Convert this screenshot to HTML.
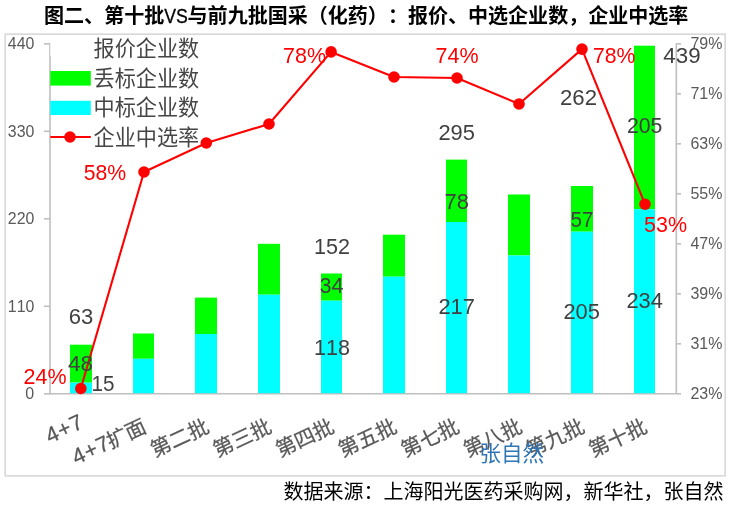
<!DOCTYPE html>
<html lang="zh-CN">
<head>
<meta charset="utf-8">
<title>图二、第十批VS与前九批国采（化药）</title>
<style>
html,body{margin:0;padding:0;background:#fff;}
body{width:736px;height:508px;overflow:hidden;position:relative;}
svg{display:block;position:absolute;left:0;top:0;}
text{font-family:"Liberation Sans", "Noto Sans CJK SC", sans-serif;text-spacing-trim:space-all;font-kerning:none;}
.t{font-weight:bold;font-size:20.07px;fill:#000;}
.ax{font-size:16px;fill:#595959;}
.dl{font-size:22px;fill:#404040;text-anchor:middle;}
.rl{font-size:22px;fill:#ff0000;text-anchor:middle;}
.lg{font-size:21.15px;fill:#454545;}
.cat{font-size:20.5px;fill:#595959;stroke:#595959;stroke-width:0.25px;text-anchor:end;}
.catl{font-size:22px;letter-spacing:0.7px;}
.src{font-size:20px;fill:#000;text-anchor:end;}
.wm{font-size:21.5px;fill:#2e75b6;}
</style>
</head>
<body>
<svg width="736" height="508" viewBox="0 0 736 508">
<rect x="0" y="0" width="736" height="508" fill="#ffffff"/>
<text class="t" x="44" y="23.3">图二、第十批</text>
<text x="164.2" y="23.3" font-size="20" fill="#000" stroke="#000" stroke-width="0.3" textLength="23.6" lengthAdjust="spacingAndGlyphs">VS</text>
<text class="t" x="187.6" y="23.3" style="font-size:20.04px">与前九批国采（化药）：报价、中选企业数，企业中选率</text>
<rect x="5.2" y="34.2" width="720" height="441.6" fill="#fff" stroke="#d9d9d9" stroke-width="1.7"/>
<g stroke="#bfbfbf" stroke-width="1.6" fill="none">
<path d="M50 43.8V393.8H676.3"/>
<path d="M44 43.8H50"/>
<path d="M44 131.3H50"/>
<path d="M44 218.8H50"/>
<path d="M44 306.3H50"/>
<path d="M44 393.8H50"/>
<path d="M676.3 43.8V393.8"/>
<path d="M676.3 43.8H681"/>
<path d="M676.3 93.8H681"/>
<path d="M676.3 143.8H681"/>
<path d="M676.3 193.8H681"/>
<path d="M676.3 243.8H681"/>
<path d="M676.3 293.8H681"/>
<path d="M676.3 343.8H681"/>
<path d="M676.3 393.8H681"/>
</g>
<text class="ax" x="7.8" y="49.4" textLength="26.5" lengthAdjust="spacingAndGlyphs">440</text>
<text class="ax" x="7.8" y="136.9" textLength="26.5" lengthAdjust="spacingAndGlyphs">330</text>
<text class="ax" x="7.8" y="224.4" textLength="26.5" lengthAdjust="spacingAndGlyphs">220</text>
<text class="ax" x="7.8" y="311.9" textLength="26.5" lengthAdjust="spacingAndGlyphs">110</text>
<text class="ax" x="25.3" y="399.4" text-anchor="start">0</text>
<text class="ax" x="690.4" y="48.6" textLength="32" lengthAdjust="spacingAndGlyphs">79%</text>
<text class="ax" x="690.4" y="98.6" textLength="32" lengthAdjust="spacingAndGlyphs">71%</text>
<text class="ax" x="690.4" y="148.6" textLength="32" lengthAdjust="spacingAndGlyphs">63%</text>
<text class="ax" x="690.4" y="198.6" textLength="32" lengthAdjust="spacingAndGlyphs">55%</text>
<text class="ax" x="690.4" y="248.6" textLength="32" lengthAdjust="spacingAndGlyphs">47%</text>
<text class="ax" x="690.4" y="298.6" textLength="32" lengthAdjust="spacingAndGlyphs">39%</text>
<text class="ax" x="690.4" y="348.6" textLength="32" lengthAdjust="spacingAndGlyphs">31%</text>
<text class="ax" x="690.4" y="398.6" textLength="32" lengthAdjust="spacingAndGlyphs">23%</text>
<g>
<rect x="70" y="344.7" width="22" height="37.9" fill="#00ff00"/>
<rect x="70" y="382.6" width="22" height="10.6" fill="#00ffff"/>
<rect x="133" y="333.5" width="21" height="25.3" fill="#00ff00"/>
<rect x="133" y="358.8" width="21" height="34.4" fill="#00ffff"/>
<rect x="195" y="297.6" width="22" height="36.4" fill="#00ff00"/>
<rect x="195" y="334.0" width="22" height="59.2" fill="#00ffff"/>
<rect x="258" y="243.8" width="22" height="50.9" fill="#00ff00"/>
<rect x="258" y="294.7" width="22" height="98.5" fill="#00ffff"/>
<rect x="321" y="273.5" width="21" height="27.2" fill="#00ff00"/>
<rect x="321" y="300.7" width="21" height="92.5" fill="#00ffff"/>
<rect x="383" y="234.7" width="22" height="42.0" fill="#00ff00"/>
<rect x="383" y="276.7" width="22" height="116.5" fill="#00ffff"/>
<rect x="446" y="159.6" width="21" height="62.4" fill="#00ff00"/>
<rect x="446" y="222.0" width="21" height="171.2" fill="#00ffff"/>
<rect x="508" y="194.5" width="22" height="61.0" fill="#00ff00"/>
<rect x="508" y="255.5" width="22" height="137.7" fill="#00ffff"/>
<rect x="571" y="186.0" width="22" height="45.7" fill="#00ff00"/>
<rect x="571" y="231.7" width="22" height="161.5" fill="#00ffff"/>
<rect x="634" y="45.7" width="21" height="163.5" fill="#00ff00"/>
<rect x="634" y="209.2" width="21" height="184.0" fill="#00ffff"/>
</g>
<rect x="50.3" y="41" width="40.5" height="14.8" fill="#ffffff"/>
<rect x="50.3" y="71" width="40.5" height="14.6" fill="#00ff00"/>
<rect x="50.3" y="100.8" width="40.5" height="14.2" fill="#00ffff"/>
<path d="M50.3 137H90.8" stroke="#ff0000" stroke-width="2"/>
<circle cx="70" cy="137" r="5.8" fill="#ff0000"/>
<text class="lg" x="93.5" y="55.8">报价企业数</text>
<text class="lg" x="93.5" y="85.6">丢标企业数</text>
<text class="lg" x="93.5" y="114.8">中标企业数</text>
<text class="lg" x="93.5" y="144.6">企业中选率</text>
<polyline points="80.8,388.5 144.0,172.0 206.3,143.0 269.0,124.0 331.1,51.9 394.0,77.0 457.0,78.0 519.0,104.0 582.0,49.1 645.0,204.2" fill="none" stroke="#ff0000" stroke-width="2.1" stroke-linejoin="round"/>
<circle cx="80.8" cy="388.5" r="5.8" fill="#ff0000"/>
<circle cx="144.0" cy="172.0" r="5.8" fill="#ff0000"/>
<circle cx="206.3" cy="143.0" r="5.8" fill="#ff0000"/>
<circle cx="269.0" cy="124.0" r="5.8" fill="#ff0000"/>
<circle cx="331.1" cy="51.9" r="5.8" fill="#ff0000"/>
<circle cx="394.0" cy="77.0" r="5.8" fill="#ff0000"/>
<circle cx="457.0" cy="78.0" r="5.8" fill="#ff0000"/>
<circle cx="519.0" cy="104.0" r="5.8" fill="#ff0000"/>
<circle cx="582.0" cy="49.1" r="5.8" fill="#ff0000"/>
<circle cx="645.0" cy="204.2" r="5.8" fill="#ff0000"/>
<text class="dl" x="81.0" y="324.3" textLength="24.5" lengthAdjust="spacingAndGlyphs">63</text>
<text class="dl" x="80.5" y="371.0" textLength="25.0" lengthAdjust="spacingAndGlyphs">48</text>
<text class="dl" x="103.0" y="391.3" textLength="23.0" lengthAdjust="spacingAndGlyphs">15</text>
<text class="dl" x="332.0" y="253.8" textLength="36.0" lengthAdjust="spacingAndGlyphs">152</text>
<text class="dl" x="331.5" y="293.3" textLength="24.0" lengthAdjust="spacingAndGlyphs">34</text>
<text class="dl" x="332.0" y="354.6" textLength="36.0" lengthAdjust="spacingAndGlyphs">118</text>
<text class="dl" x="456.7" y="139.8" textLength="36.5" lengthAdjust="spacingAndGlyphs">295</text>
<text class="dl" x="456.7" y="209.3" textLength="24.5" lengthAdjust="spacingAndGlyphs">78</text>
<text class="dl" x="456.7" y="314.3" textLength="36.5" lengthAdjust="spacingAndGlyphs">217</text>
<text class="dl" x="578.5" y="105.3" textLength="37.0" lengthAdjust="spacingAndGlyphs">262</text>
<text class="dl" x="582.0" y="227.3" textLength="23.0" lengthAdjust="spacingAndGlyphs">57</text>
<text class="dl" x="581.7" y="319.3" textLength="36.5" lengthAdjust="spacingAndGlyphs">205</text>
<text class="dl" x="682.0" y="62.7" textLength="37.3" lengthAdjust="spacingAndGlyphs">439</text>
<text class="dl" x="644.7" y="133.3" textLength="35.5" lengthAdjust="spacingAndGlyphs">205</text>
<text class="dl" x="644.7" y="308.3" textLength="36.5" lengthAdjust="spacingAndGlyphs">234</text>
<text class="rl" x="45.0" y="383.5" textLength="43.0" lengthAdjust="spacingAndGlyphs">24%</text>
<text class="rl" x="105.0" y="179.7" textLength="42.5" lengthAdjust="spacingAndGlyphs">58%</text>
<text class="rl" x="304.5" y="63.2" textLength="43.0" lengthAdjust="spacingAndGlyphs">78%</text>
<text class="rl" x="457.0" y="62.7" textLength="43.0" lengthAdjust="spacingAndGlyphs">74%</text>
<text class="rl" x="614.2" y="62.7" textLength="42.5" lengthAdjust="spacingAndGlyphs">78%</text>
<text class="rl" x="665.5" y="232.2" textLength="43.0" lengthAdjust="spacingAndGlyphs">53%</text>
<text class="cat" transform="translate(85.5,427.0) rotate(-25)" x="0" y="0"><tspan class="catl">4+7</tspan></text>
<text class="cat" transform="translate(147.9,431.6) rotate(-25)" x="0" y="0"><tspan class="catl">4+7</tspan><tspan dx="-1.3">扩面</tspan></text>
<text class="cat" transform="translate(210.5,431.6) rotate(-25)" x="0" y="0">第二批</text>
<text class="cat" transform="translate(273.1,431.6) rotate(-25)" x="0" y="0">第三批</text>
<text class="cat" transform="translate(335.7,431.6) rotate(-25)" x="0" y="0">第四批</text>
<text class="cat" transform="translate(398.3,431.6) rotate(-25)" x="0" y="0">第五批</text>
<text class="cat" transform="translate(460.9,431.6) rotate(-25)" x="0" y="0">第七批</text>
<text class="cat" transform="translate(523.5,431.6) rotate(-25)" x="0" y="0">第八批</text>
<text class="cat" transform="translate(586.1,431.6) rotate(-25)" x="0" y="0">第九批</text>
<text class="cat" transform="translate(648.7,431.6) rotate(-25)" x="0" y="0">第十批</text>
<text class="wm" x="479.6" y="460.6">张自然</text>
<text class="src" x="723.6" y="498.5">数据来源：上海阳光医药采购网，新华社，张自然</text>
</svg>
</body>
</html>
